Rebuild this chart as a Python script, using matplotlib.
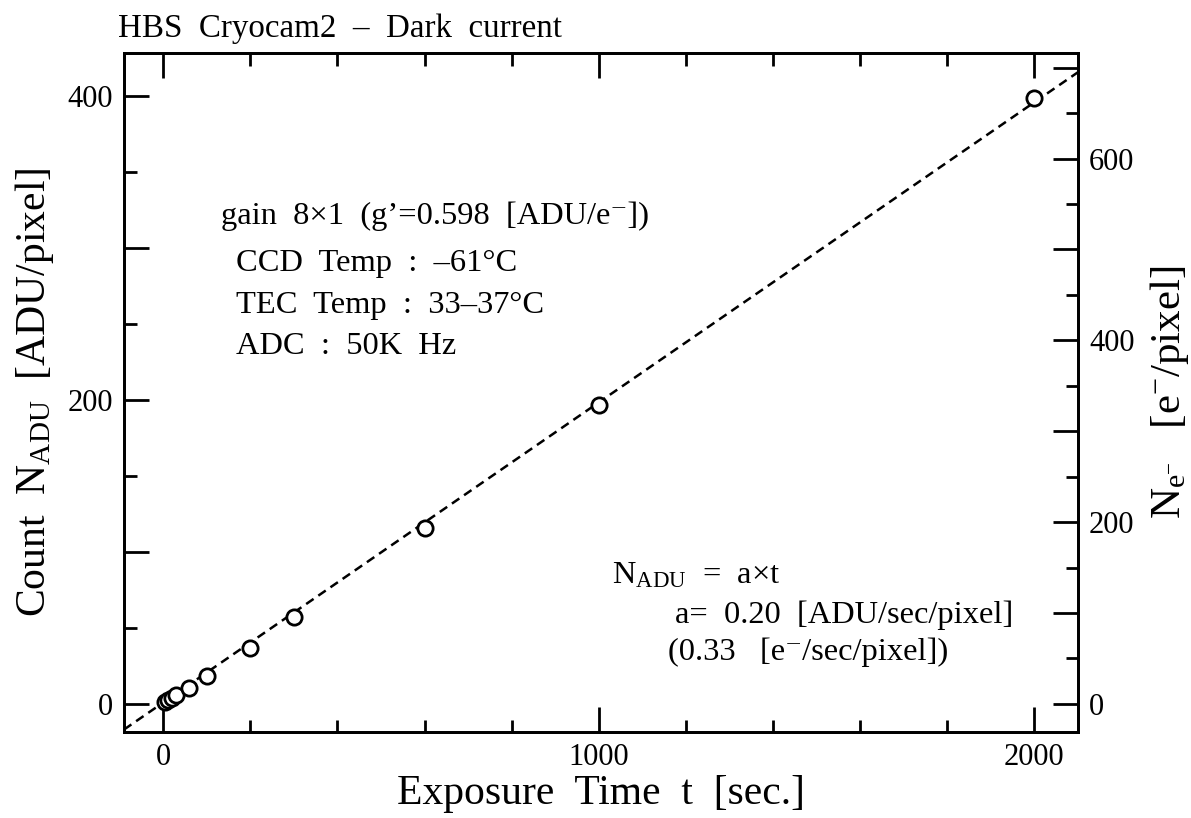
"""Dark current of the HBS Cryocam2: counts vs exposure time."""

import matplotlib.pyplot as plt
from matplotlib.ticker import FuncFormatter, MultipleLocator

plt.rcParams["font.family"] = ["Liberation Serif", "DejaVu Serif"]
plt.rcParams["mathtext.fontset"] = "custom"
plt.rcParams["mathtext.rm"] = "Liberation Serif"
plt.rcParams["mathtext.it"] = "Liberation Serif:italic"

# exposure time [sec] and measured mean count [ADU/pixel]
exposure_t = [5, 10, 20, 30, 60, 100, 200, 300, 600, 1000, 2000]
count_adu = [1.5, 2.5, 4.2, 6.0, 10.5, 18.5, 37.0, 57.0, 116.0, 197.0, 399.0]

# linear fit N = a*t (+ small offset)
FIT_A = 0.1975
FIT_B = 0.9
GAIN = 0.598  # ADU per electron

XLIM = (-90, 2100)
YLIM = (-18.5, 428.5)

E_MINUS = "e\u207b"

info_lines = [
    f"gain  8×1  (g’=0.598  [ADU/{E_MINUS}])",
    "CCD  Temp  :  –61°C",
    "TEC  Temp  :  33–37°C",
    "ADC  :  50K  Hz",
]

TICK_FS = 22
NOTE_FS = 23.4
LW = 2.0


def _style_axis(axis):
    axis.tick_params(which="both", direction="in", width=LW,
                     labelsize=TICK_FS, pad=8)
    axis.tick_params(which="major", length=18)
    axis.tick_params(which="minor", length=9)
    for sp in axis.spines.values():
        sp.set_linewidth(LW)


def _every_200(v, _):
    return f"{v:.0f}" if round(v) % 200 == 0 else ""


def main() -> None:
    fig = plt.figure(figsize=(11.91, 8.18), dpi=100)
    ax = fig.add_axes([0.1041, 0.1051, 0.8010, 0.8305])

    fit_x = list(XLIM)
    fit_y = [FIT_A * x + FIT_B for x in fit_x]
    ax.plot(fit_x, fit_y, ls=(0, (3.6, 2.3)), lw=1.8, c="black", zorder=2)
    ax.plot(exposure_t, count_adu, ls="none", marker="o", ms=11,
            mfc="white", mec="black", mew=2.0, zorder=3)

    ax.set_xlim(*XLIM)
    ax.set_ylim(*YLIM)

    ax.xaxis.set_major_locator(MultipleLocator(1000))
    ax.xaxis.set_minor_locator(MultipleLocator(200))
    ax.yaxis.set_major_locator(MultipleLocator(100))
    ax.yaxis.set_minor_locator(MultipleLocator(50))
    ax.yaxis.set_major_formatter(FuncFormatter(_every_200))
    _style_axis(ax)
    ax.tick_params(which="both", top=True)

    ax.set_xlabel("Exposure  Time  t  [sec.]", fontsize=30, labelpad=2)
    ax.set_ylabel("Count  N$_{\\mathrm{ADU}}$  [ADU/pixel]", fontsize=30,
                  labelpad=8)

    ax2 = ax.twinx()
    ax2.set_ylim(YLIM[0] / GAIN, YLIM[1] / GAIN)
    ax2.yaxis.set_major_locator(MultipleLocator(100))
    ax2.yaxis.set_minor_locator(MultipleLocator(50))
    ax2.yaxis.set_major_formatter(FuncFormatter(_every_200))
    _style_axis(ax2)
    ax2.set_ylabel("N$_{\\mathrm{e}^{-}}$   [e$^{-}$/pixel]", fontsize=31,
                   labelpad=10)

    fig.text(118 / 1191, 1 - 29 / 818, "HBS  Cryocam2  –  Dark  current",
             fontsize=23.8, va="center", ha="left")

    info_x = [132, 168, 168, 168]
    info_y = [321, 290, 262, 235]
    for tx, ty, line in zip(info_x, info_y, info_lines):
        ax.text(tx, ty, line, fontsize=NOTE_FS, va="center", ha="left")

    ax.text(1031, 84, "N$_{\\mathrm{ADU}}$  =  a×t", fontsize=NOTE_FS,
            va="center", ha="left")
    ax.text(1176, 58.5, "a=  0.20  [ADU/sec/pixel]", fontsize=NOTE_FS,
            va="center", ha="left")
    ax.text(1158, 34, f"(0.33   [{E_MINUS}/sec/pixel])", fontsize=NOTE_FS,
            va="center", ha="left")

    fig.savefig("out.png", dpi=100)
    plt.close(fig)


if __name__ == "__main__":
    main()
